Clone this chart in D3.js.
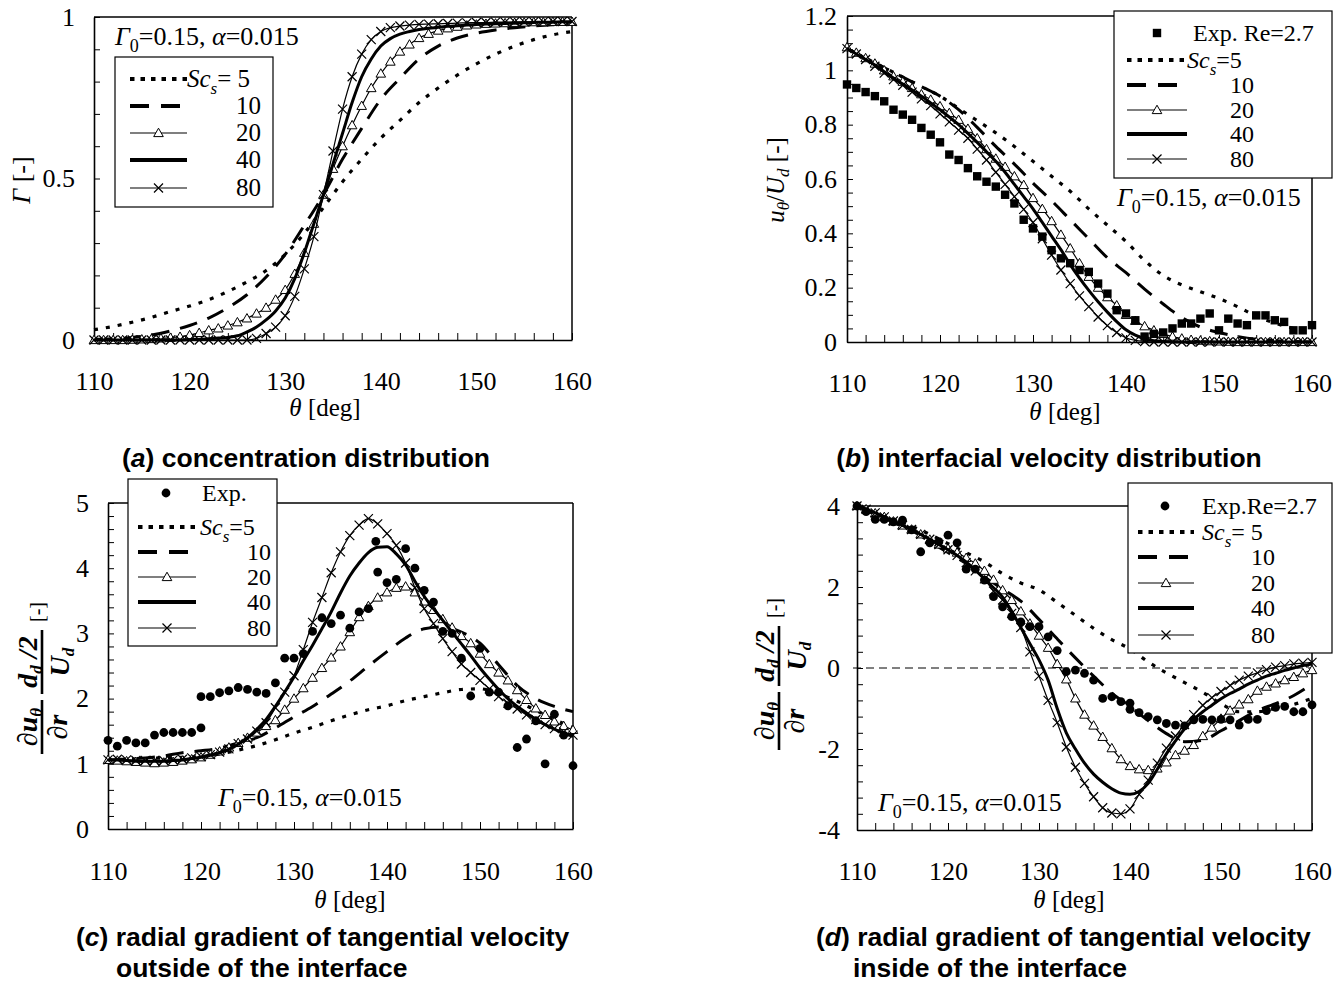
<!DOCTYPE html>
<html>
<head>
<meta charset="utf-8">
<script src="https://cdn.jsdelivr.net/npm/d3@7"></script>
<style>
  body { margin: 0; background: #fff; }
  svg { display: block; }
</style>
</head>
<body>
<div id="chart"></div>
<script>
// ---------------- data ----------------
const theta1 = d3.range(110, 161, 1);   // 1 deg grid (marker curves, solid)
const theta2 = d3.range(110, 161, 2);   // 2 deg grid (dotted / dashed)

// (a) concentration Gamma
const gammaSc5  = [0.032,0.042,0.055,0.07,0.088,0.105,0.125,0.15,0.18,0.215,0.265,0.33,0.41,0.49,0.56,0.625,0.68,0.735,0.78,0.82,0.855,0.885,0.91,0.93,0.945,0.955];
const gammaSc10 = [0.002,0.004,0.008,0.015,0.028,0.045,0.068,0.10,0.14,0.195,0.265,0.355,0.45,0.56,0.655,0.745,0.81,0.87,0.91,0.935,0.95,0.96,0.967,0.972,0.976,0.98];
const gammaSc20 = [0,0,0,0,0.001,0.002,0.003,0.005,0.007,0.01,0.015,0.022,0.03,0.036,0.045,0.055,0.067,0.082,0.10,0.125,0.155,0.205,0.27,0.36,0.45,0.53,0.6,0.665,0.725,0.78,0.825,0.862,0.893,0.915,0.935,0.948,0.958,0.965,0.97,0.974,0.977,0.979,0.98,0.981,0.982,0.983,0.984,0.984,0.985,0.985,0.985];
const gammaSc40 = [0,0,0,0,0,0,0,0,0,0,0.001,0.002,0.004,0.006,0.008,0.013,0.025,0.04,0.062,0.09,0.13,0.19,0.27,0.36,0.45,0.545,0.64,0.735,0.815,0.87,0.91,0.933,0.947,0.955,0.961,0.965,0.968,0.971,0.973,0.975,0.977,0.978,0.979,0.98,0.981,0.982,0.983,0.984,0.984,0.985,0.985];
const gammaSc80 = [0,0,0,0,0,0,0,0,0,0,0,0,0,0,0,0,0,0.005,0.02,0.04,0.075,0.135,0.22,0.32,0.45,0.585,0.715,0.815,0.885,0.93,0.955,0.967,0.972,0.975,0.977,0.978,0.979,0.98,0.981,0.982,0.983,0.983,0.984,0.984,0.985,0.985,0.985,0.985,0.986,0.986,0.986];

// (b) interfacial velocity u_theta/U_d
const uExp  = [0.948,0.935,0.92,0.905,0.886,0.855,0.837,0.818,0.788,0.763,0.735,0.69,0.67,0.64,0.61,0.59,0.572,0.542,0.51,0.45,0.418,0.388,0.338,0.308,0.29,0.265,0.258,0.215,0.178,0.117,0.105,0.08,0.02,0.03,0.035,0.05,0.068,0.068,0.086,0.105,0.043,0.086,0.068,0.062,0.098,0.098,0.08,0.074,0.043,0.043,0.062];
const uSc5  = [1.08,1.045,1.01,0.975,0.94,0.905,0.86,0.815,0.77,0.72,0.665,0.61,0.555,0.49,0.43,0.37,0.3,0.245,0.21,0.185,0.16,0.13,0.095,0.07,0.05,0.035];
const uSc10 = [1.08,1.045,1.01,0.975,0.94,0.905,0.855,0.79,0.72,0.655,0.585,0.52,0.45,0.38,0.31,0.255,0.195,0.14,0.09,0.055,0.035,0.02,0.01,0.005,0.002,0.0];
const uSc20 = [1.085,1.065,1.045,1.025,1.0,0.978,0.958,0.935,0.912,0.892,0.868,0.843,0.818,0.785,0.75,0.71,0.675,0.645,0.61,0.578,0.53,0.49,0.445,0.395,0.345,0.29,0.24,0.2,0.165,0.135,0.1,0.078,0.058,0.043,0.03,0.02,0.013,0.008,0.005,0.003,0.002,0.001,0,0,0,0,0,0,0,0,0];
const uSc40 = [1.08,1.06,1.04,1.02,0.995,0.972,0.95,0.928,0.905,0.88,0.855,0.828,0.8,0.768,0.735,0.7,0.665,0.625,0.58,0.535,0.49,0.44,0.39,0.34,0.285,0.235,0.19,0.148,0.11,0.075,0.045,0.025,0.012,0.005,0.002,0,0,0,0,0,0,0,0,0,0,0,0,0,0,0,0];
const uSc80 = [1.08,1.06,1.04,1.015,0.99,0.966,0.945,0.92,0.895,0.87,0.84,0.81,0.78,0.75,0.71,0.67,0.625,0.58,0.535,0.488,0.44,0.38,0.32,0.265,0.215,0.17,0.13,0.092,0.06,0.035,0.015,0.006,0.002,0,0,0,0,0,0,0,0,0,0,0,0,0,0,0,0,0,0];

// (c) radial gradient outside
const expThetaC = [110,111,112,113,114,115,116,117,118,119,120,120,121,122,123,124,125,126,127,128,129,130,131,132,133,134,135,136,137,138,138.8,139,140,141,142,143,144,145,146,147,148,149,150,151,152,153,154,155,156,157,158,159,160];
const expOutC   = [1.36,1.27,1.36,1.32,1.32,1.44,1.48,1.48,1.48,1.48,1.55,2.03,2.03,2.09,2.12,2.17,2.14,2.1,2.08,2.24,2.62,2.62,2.69,3.03,3.24,3.15,3.28,3.08,3.33,3.38,4.41,3.94,3.78,3.83,4.30,4.0,3.66,3.48,3.03,3.0,2.62,2.04,2.77,2.1,2.1,1.89,1.25,1.38,1.66,1.0,1.76,1.44,0.97];
const outSc5  = [1.06,1.07,1.08,1.09,1.10,1.11,1.15,1.21,1.28,1.37,1.47,1.56,1.66,1.75,1.83,1.89,1.97,2.03,2.09,2.14,2.15,2.07,1.96,1.82,1.68,1.56];
const outSc10 = [1.06,1.07,1.09,1.12,1.17,1.2,1.24,1.32,1.40,1.55,1.72,1.88,2.07,2.27,2.5,2.72,2.93,3.07,3.10,3.02,2.85,2.52,2.2,2.0,1.88,1.80];
const outSc20 = [1.06,1.05,1.04,1.03,1.02,1.01,1.02,1.03,1.05,1.07,1.10,1.14,1.19,1.25,1.32,1.4,1.48,1.58,1.67,1.83,2.0,2.16,2.32,2.47,2.63,2.8,3.02,3.25,3.42,3.55,3.63,3.70,3.72,3.63,3.49,3.36,3.22,3.09,2.96,2.85,2.69,2.53,2.4,2.28,2.13,1.98,1.85,1.75,1.65,1.58,1.52];
const outSc40 = [1.06,1.06,1.05,1.04,1.04,1.04,1.04,1.05,1.06,1.08,1.1,1.13,1.17,1.22,1.3,1.4,1.53,1.68,1.88,2.1,2.33,2.58,2.82,3.07,3.33,3.62,3.88,4.08,4.24,4.32,4.33,4.22,4.05,3.8,3.57,3.38,3.2,3.02,2.84,2.66,2.47,2.3,2.14,2.0,1.88,1.78,1.68,1.6,1.53,1.47,1.42];
const outSc80 = [1.06,1.07,1.06,1.05,1.05,1.05,1.05,1.06,1.07,1.09,1.11,1.14,1.18,1.23,1.31,1.38,1.50,1.63,1.86,2.1,2.35,2.75,3.17,3.55,3.93,4.25,4.5,4.66,4.76,4.68,4.53,4.35,4.08,3.7,3.38,3.15,2.92,2.72,2.53,2.4,2.28,2.15,2.03,1.93,1.84,1.75,1.68,1.6,1.54,1.49,1.44];

// (d) radial gradient inside
const expThetaD = [110,111,112,113,114,115,116,117,118,119,120,121,122,123,124,125,126,127,128,129,130,131,132,133,134,135,136,137,138,139,140,140,141,142,143,144,145,146,147,148,149,150,151,152,153,154,155,156,157,158,159,160];
const expInD    = [4.0,3.86,3.67,3.67,3.61,3.65,3.41,2.87,3.09,3.12,3.28,3.09,2.44,2.44,2.17,1.76,1.51,1.27,1.14,1.02,1.02,0.77,0.43,-0.09,-0.05,-0.13,-0.3,-0.75,-0.71,-0.83,-0.87,-1.02,-1.1,-1.2,-1.28,-1.37,-1.41,-1.43,-1.28,-1.27,-1.28,-1.27,-1.28,-1.41,-1.27,-1.27,-1.05,-0.97,-0.95,-1.08,-1.08,-0.91];
const inSc5  = [4.0,3.82,3.65,3.5,3.3,3.07,2.85,2.62,2.33,2.1,1.93,1.62,1.3,0.98,0.7,0.47,0.15,-0.12,-0.36,-0.6,-0.88,-1.08,-1.08,-1.0,-0.9,-0.75];
const inSc10 = [4.0,3.8,3.6,3.4,3.12,2.85,2.58,2.25,1.95,1.65,1.2,0.72,0.25,-0.2,-0.62,-0.95,-1.3,-1.62,-1.82,-1.78,-1.55,-1.3,-1.05,-0.88,-0.68,-0.4];
const inSc20 = [4.0,3.92,3.82,3.73,3.62,3.52,3.42,3.3,3.17,3.05,2.95,2.85,2.72,2.58,2.4,2.18,1.92,1.68,1.4,1.1,0.8,0.5,0.1,-0.28,-0.75,-1.15,-1.42,-1.7,-1.98,-2.25,-2.42,-2.5,-2.52,-2.48,-2.33,-2.15,-2.04,-1.9,-1.68,-1.47,-1.25,-1.05,-0.9,-0.77,-0.56,-0.46,-0.38,-0.3,-0.22,-0.13,-0.05];
const inSc40 = [4.0,3.92,3.83,3.73,3.63,3.52,3.42,3.3,3.18,3.05,2.92,2.78,2.62,2.42,2.2,1.98,1.75,1.4,1.0,0.6,0.2,-0.3,-1.0,-1.6,-2.0,-2.35,-2.62,-2.82,-2.98,-3.09,-3.12,-3.05,-2.85,-2.5,-2.12,-1.8,-1.5,-1.27,-1.08,-0.92,-0.76,-0.63,-0.52,-0.4,-0.3,-0.2,-0.13,-0.06,0.0,0.06,0.1];
const inSc80 = [4.0,3.92,3.83,3.73,3.63,3.52,3.42,3.3,3.18,3.05,2.92,2.78,2.6,2.4,2.2,1.9,1.68,1.35,1.0,0.4,-0.2,-0.8,-1.35,-1.95,-2.45,-2.85,-3.18,-3.45,-3.58,-3.6,-3.48,-3.12,-2.77,-2.35,-1.98,-1.68,-1.4,-1.15,-0.92,-0.73,-0.58,-0.43,-0.3,-0.2,-0.12,-0.04,0.02,0.06,0.1,0.12,0.14];

const scLabels = ["5", "10", "20", "40", "80"];

// ---------------- drawing ----------------
const SERIF = "'Liberation Serif','Times New Roman',serif";
const SANS = "'Liberation Sans',Arial,sans-serif";
const TICK_FS = 26;

const svg = d3.select("#chart").append("svg")
    .attr("width", 1341).attr("height", 985);

// line styles for the five Sc_s curves
const styles = {
    sc5:  { width: 3.2, dash: "4,8" },
    sc10: { width: 3, dash: "18,11" },
    sc20: { width: 1.2, marker: "tri" },
    sc40: { width: 3 },
    sc80: { width: 1.2, marker: "cross" }
};
const markerPath = {
    tri: "M0,-4.8L4.8,3.6L-4.8,3.6Z",
    cross: "M-4.5,-4.5L4.5,4.5M-4.5,4.5L4.5,-4.5"
};

function addMarker(g, kind, cx, cy) {
    if (kind === "tri") {
        g.append("path").attr("transform", `translate(${cx},${cy})`).attr("d", markerPath.tri)
            .attr("fill", "#fff").attr("stroke", "#000").attr("stroke-width", 1);
    } else if (kind === "cross") {
        g.append("path").attr("transform", `translate(${cx},${cy})`).attr("d", markerPath.cross)
            .attr("fill", "none").attr("stroke", "#000").attr("stroke-width", 1.2);
    } else if (kind === "square") {
        g.append("rect").attr("x", cx - 4.2).attr("y", cy - 4.2).attr("width", 8.4).attr("height", 8.4).attr("fill", "#000");
    } else if (kind === "dot") {
        g.append("circle").attr("cx", cx).attr("cy", cy).attr("r", 4.4).attr("fill", "#000");
    }
}

function drawPanel(p) {
    const x = d3.scaleLinear().domain([110, 160]).range([p.l, p.r]);
    const y = d3.scaleLinear().domain(p.yDomain).range([p.b, p.t]);
    const g = svg.append("g");

    // frame
    g.append("line").attr("x1", p.l).attr("x2", p.r).attr("y1", p.t).attr("y2", p.t)
        .attr("stroke", "#000").attr("stroke-width", 1.5);
    g.append("line").attr("x1", p.r).attr("x2", p.r).attr("y1", p.t).attr("y2", p.b)
        .attr("stroke", "#000").attr("stroke-width", 1.5);

    if (p.zeroLine) {
        g.append("line").attr("x1", p.l - 4).attr("x2", p.r).attr("y1", y(0)).attr("y2", y(0))
            .attr("stroke", "#000").attr("stroke-width", 1).attr("stroke-dasharray", "8,5");
    }

    const isLab = d => p.yLabels.some(v => Math.abs(v - d) < 1e-6);
    const xa = g.append("g").attr("transform", `translate(0,${p.b})`)
        .call(d3.axisBottom(x).tickValues(theta2).tickSize(-7).tickSizeOuter(0)
            .tickPadding(p.xPad).tickFormat(d => d % 10 === 0 ? d : ""));
    const ya = g.append("g").attr("transform", `translate(${p.l},0)`)
        .call(d3.axisLeft(y).tickValues(p.yTicks).tickSize(-6).tickSizeOuter(0)
            .tickPadding(p.yPad).tickFormat(d => isLab(d) ? String(+d.toFixed(2)) : ""));
    [xa, ya].forEach(a => {
        a.attr("font-family", SERIF).attr("font-size", TICK_FS);
        a.select(".domain").attr("stroke-width", 1.6);
        a.selectAll(".tick line").attr("stroke-width", 1);
        a.selectAll(".tick text").attr("fill", "#000");
    });

    const line = d3.line().x(d => x(d[0])).y(d => y(d[1])).curve(d3.curveMonotoneX);
    p.series.forEach(s => {
        const st = styles[s.key];
        const pts = s.xs.map((t, i) => [t, s.ys[i]]);
        g.append("path").datum(pts).attr("d", line).attr("fill", "none")
            .attr("stroke", "#000").attr("stroke-width", st.width)
            .attr("stroke-dasharray", st.dash || null);
        if (st.marker) pts.forEach(d => addMarker(g, st.marker, x(d[0]), y(d[1])));
    });
    if (p.exp) {
        p.exp.xs.forEach((t, i) => addMarker(g, p.exp.kind, x(t), y(p.exp.ys[i])));
    }
    return g;
}

function scText(sel, tail) {
    sel.append("tspan").attr("font-style", "italic").text("Sc");
    sel.append("tspan").attr("font-style", "italic").attr("font-size", 17).attr("dy", 7).text("s");
    sel.append("tspan").attr("dy", -7).text(tail);
}

function drawLegend(L) {
    const g = svg.append("g").attr("font-family", SERIF).attr("font-size", L.fs || 25);
    g.append("rect").attr("x", L.x).attr("y", L.y).attr("width", L.w).attr("height", L.h)
        .attr("fill", "#fff").attr("stroke", "#000").attr("stroke-width", 1.2);
    const rows = L.rows;
    if (L.exp) {
        addMarker(g, L.exp.kind, L.exp.mx, L.exp.y);
        g.append("text").attr("x", L.exp.tx).attr("y", L.exp.y + 8).text(L.exp.label);
    }
    ["sc5", "sc10", "sc20", "sc40", "sc80"].forEach((k, i) => {
        const st = styles[k], ry = rows[i];
        g.append("line").attr("x1", L.lx1).attr("x2", L.lx2).attr("y1", ry).attr("y2", ry)
            .attr("stroke", "#000").attr("stroke-width", st.width >= 3 ? 3.8 : st.width)
            .attr("stroke-dasharray", k === "sc5" ? "4.5,6" : (k === "sc10" ? "19,12" : null));
        if (st.marker) addMarker(g, st.marker, (L.lx1 + L.lx2) / 2, ry);
        if (i === 0) {
            scText(g.append("text").attr("x", L.scX).attr("y", ry + 8), L.tail);
        } else {
            g.append("text").attr("x", L.numX).attr("y", ry + 8).attr("text-anchor", "end").text(scLabels[i]);
        }
    });
}

function gammaNote(x, y) {
    const t = svg.append("text").attr("x", x).attr("y", y)
        .attr("font-family", SERIF).attr("font-size", 26);
    t.append("tspan").attr("font-style", "italic").text("\u0393");
    t.append("tspan").attr("dy", 7).attr("font-size", 18).text("0");
    t.append("tspan").attr("dy", -7).text("=0.15, ");
    t.append("tspan").attr("font-style", "italic").text("\u03b1");
    t.append("tspan").text("=0.015");
}

function thetaTitle(cx, y, gap) {
    const t = svg.append("text").attr("x", cx).attr("y", y).attr("text-anchor", "middle")
        .attr("font-family", SERIF).attr("font-size", 25);
    t.append("tspan").attr("font-style", "italic").text("\u03b8");
    t.append("tspan").text(gap + "[deg]");
}

function gradLabel(x, yBottom, f1, f2) {
    const g = svg.append("g").attr("transform", `translate(${x},${yBottom}) rotate(-90)`)
        .attr("font-family", SERIF).attr("font-weight", "bold").attr("font-style", "italic")
        .attr("font-size", 28);
    const c1 = (f1[0] + f1[1]) / 2, c2 = (f2[0] + f2[1]) / 2;
    g.append("line").attr("x1", f1[0]).attr("x2", f1[1]).attr("stroke", "#000").attr("stroke-width", 2.6);
    const n1 = g.append("text").attr("x", c1).attr("y", -5).attr("text-anchor", "middle");
    n1.append("tspan").text("\u2202u");
    n1.append("tspan").attr("dy", 5).attr("font-size", 17).text("\u03b8");
    g.append("text").attr("x", c1).attr("y", 25).attr("text-anchor", "middle").text("\u2202r");
    g.append("line").attr("x1", f2[0]).attr("x2", f2[1]).attr("stroke", "#000").attr("stroke-width", 2.6);
    const n2 = g.append("text").attr("x", c2).attr("y", -5).attr("text-anchor", "middle");
    n2.append("tspan").text("d");
    n2.append("tspan").attr("dy", 5).attr("font-size", 17).text("d");
    n2.append("tspan").attr("dy", -5).text(" /2");
    const d2 = g.append("text").attr("x", c2).attr("y", 27).attr("text-anchor", "middle");
    d2.append("tspan").text("U");
    d2.append("tspan").attr("dy", 5).attr("font-size", 17).text("d");
    g.append("text").attr("x", f2[1] + 8).attr("y", 2).attr("font-size", 20)
        .attr("font-style", "normal").attr("font-weight", "normal").text("[-]");
}

function caption(x, y, letter, rest, anchor) {
    const t = svg.append("text").attr("x", x).attr("y", y).attr("text-anchor", anchor || "start")
        .attr("font-family", SANS).attr("font-weight", "bold").attr("font-size", 26.5);
    t.append("tspan").text("(");
    t.append("tspan").attr("font-style", "italic").text(letter);
    t.append("tspan").text(rest);
}

// ---- panel (a)
drawPanel({
    l: 94, r: 572, t: 17, b: 340, yDomain: [0, 1],
    yTicks: d3.range(0, 1.001, 0.1), yLabels: [0, 0.5, 1], xPad: 32, yPad: 19,
    series: [
        { key: "sc5", xs: theta2, ys: gammaSc5 },
        { key: "sc10", xs: theta2, ys: gammaSc10 },
        { key: "sc20", xs: theta1, ys: gammaSc20 },
        { key: "sc40", xs: theta1, ys: gammaSc40 },
        { key: "sc80", xs: theta1, ys: gammaSc80 }
    ]
});
gammaNote(115, 45);
drawLegend({ x: 115, y: 57, w: 158, h: 150, rows: [79, 106, 133, 160, 188],
    lx1: 130, lx2: 187, scX: 187, tail: "= 5", numX: 261 });
thetaTitle(325, 416, " ");
{
    const t = svg.append("text").attr("transform", "translate(30,180) rotate(-90)")
        .attr("text-anchor", "middle").attr("font-family", SERIF).attr("font-size", 26);
    t.append("tspan").attr("font-style", "italic").text("\u0393");
    t.append("tspan").text(" [-]");
}
caption(306, 467, "a", ") concentration distribution", "middle");

// ---- panel (b)
drawPanel({
    l: 847, r: 1312, t: 16, b: 342, yDomain: [0, 1.2],
    yTicks: d3.range(0, 1.2001, 0.05), yLabels: [0, 0.2, 0.4, 0.6, 0.8, 1, 1.2], xPad: 32, yPad: 10,
    series: [
        { key: "sc5", xs: theta2, ys: uSc5 },
        { key: "sc10", xs: theta2, ys: uSc10 },
        { key: "sc20", xs: theta1, ys: uSc20 },
        { key: "sc40", xs: theta1, ys: uSc40 },
        { key: "sc80", xs: theta1, ys: uSc80 }
    ],
    exp: { kind: "square", xs: theta1, ys: uExp }
});
drawLegend({ x: 1114, y: 11, w: 218, h: 167, rows: [60, 85, 110, 134, 159], fs: 24,
    exp: { kind: "square", mx: 1157, tx: 1193, y: 33, label: "Exp. Re=2.7" },
    lx1: 1127, lx2: 1187, scX: 1187, tail: "=5", numX: 1254 });
gammaNote(1117, 206);
thetaTitle(1065, 420, "  ");
{
    const t = svg.append("text").attr("transform", "translate(784,180) rotate(-90)")
        .attr("text-anchor", "middle").attr("font-family", SERIF).attr("font-size", 25);
    t.append("tspan").attr("font-style", "italic").text("u");
    t.append("tspan").attr("font-style", "italic").attr("font-size", 17).attr("dy", 5).text("\u03b8");
    t.append("tspan").attr("dy", -5).text("/");
    t.append("tspan").attr("font-style", "italic").text("U");
    t.append("tspan").attr("font-style", "italic").attr("font-size", 17).attr("dy", 5).text("d");
    t.append("tspan").attr("dy", -5).text(" [-]");
}
caption(1049, 467, "b", ") interfacial velocity distribution", "middle");

// ---- panel (c)
drawPanel({
    l: 108, r: 573, t: 503, b: 829, yDomain: [0, 5],
    yTicks: d3.range(0, 5.001, 0.2), yLabels: [0, 1, 2, 3, 4, 5], xPad: 33, yPad: 19,
    series: [
        { key: "sc5", xs: theta2, ys: outSc5 },
        { key: "sc10", xs: theta2, ys: outSc10 },
        { key: "sc20", xs: theta1, ys: outSc20 },
        { key: "sc40", xs: theta1, ys: outSc40 },
        { key: "sc80", xs: theta1, ys: outSc80 }
    ],
    exp: { kind: "dot", xs: expThetaC, ys: expOutC }
});
drawLegend({ x: 128, y: 479, w: 149, h: 167, rows: [527, 552, 577, 602, 628], fs: 24,
    exp: { kind: "dot", mx: 166, tx: 202, y: 493, label: "Exp." },
    lx1: 138, lx2: 196, scX: 200, tail: "=5", numX: 271 });
gammaNote(218, 806);
thetaTitle(350, 908, " ");
gradLabel(42, 754, [0, 54], [60, 124]);
caption(76, 946, "c", ") radial gradient of tangential velocity");
svg.append("text").attr("x", 116).attr("y", 977).attr("font-family", SANS)
    .attr("font-weight", "bold").attr("font-size", 26.5).text("outside of the interface");

// ---- panel (d)
drawPanel({
    l: 857, r: 1312, t: 506, b: 830, yDomain: [-4, 4], zeroLine: true,
    yTicks: d3.range(-4, 4.001, 0.4), yLabels: [-4, -2, 0, 2, 4], xPad: 32, yPad: 17,
    series: [
        { key: "sc5", xs: theta2, ys: inSc5 },
        { key: "sc10", xs: theta2, ys: inSc10 },
        { key: "sc20", xs: theta1, ys: inSc20 },
        { key: "sc40", xs: theta1, ys: inSc40 },
        { key: "sc80", xs: theta1, ys: inSc80 }
    ],
    exp: { kind: "dot", xs: expThetaD, ys: expInD }
});
drawLegend({ x: 1128, y: 483, w: 204, h: 170, rows: [532, 557, 583, 608, 635], fs: 24,
    exp: { kind: "dot", mx: 1165, tx: 1202, y: 506, label: "Exp.Re=2.7" },
    lx1: 1138, lx2: 1194, scX: 1202, tail: "= 5", numX: 1275 });
gammaNote(878, 811);
thetaTitle(1069, 908, "  ");
gradLabel(779, 750, [0, 58], [64, 124]);
caption(816, 946, "d", ") radial gradient of tangential velocity");
svg.append("text").attr("x", 853).attr("y", 977).attr("font-family", SANS)
    .attr("font-weight", "bold").attr("font-size", 26.5).text("inside of the interface");
</script>
</body>
</html>
